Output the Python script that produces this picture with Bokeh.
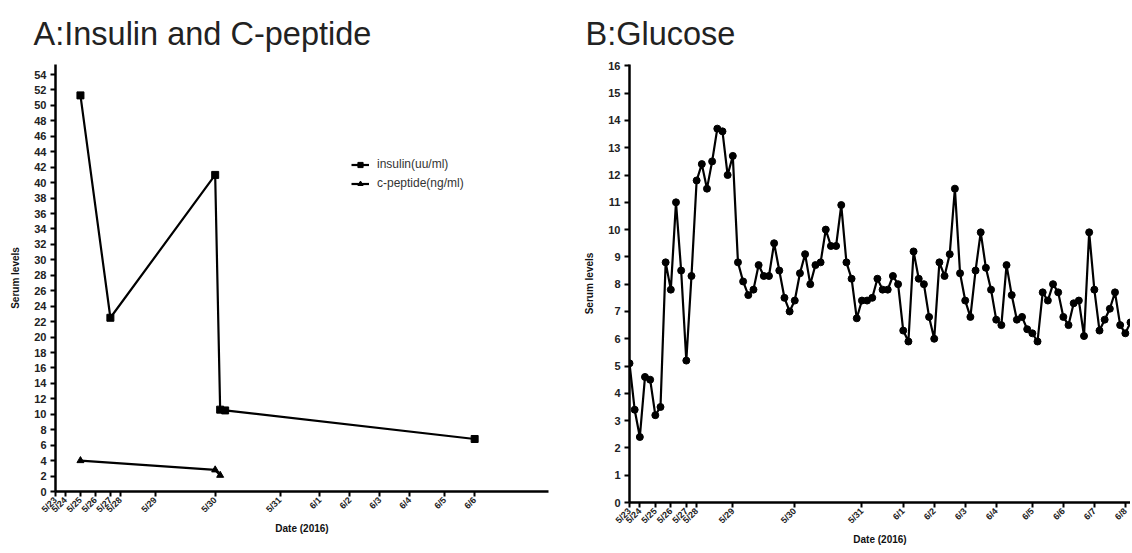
import math
from bokeh.plotting import figure
from bokeh.layouts import row
from bokeh.models import Range1d, FixedTicker, Legend, LegendItem
from bokeh.embed import file_html
from bokeh.resources import INLINE

# shared time axis: sample index, tick labels at the date boundaries
tick_index = [0, 2, 5, 8, 11, 13, 20, 32, 45, 53, 59, 65, 71, 78, 84, 90, 96]
tick_dates = ["5/23", "5/24", "5/25", "5/26", "5/27", "5/28", "5/29", "5/30",
              "5/31", "6/1", "6/2", "6/3", "6/4", "6/5", "6/6", "6/7", "6/8"]

# Panel A
insulin_idx = [5, 11, 32, 33, 34, 84]
insulin_val = [51.3, 22.5, 41.0, 10.6, 10.5, 6.8]
cpep_idx = [5, 32, 33]
cpep_val = [4.0, 2.8, 2.1]

# Panel B
glucose = [5.1, 3.4, 2.4, 4.6, 4.5, 3.2, 3.5, 8.8, 7.8, 11.0,
           8.5, 5.2, 8.3, 11.8, 12.4, 11.5, 12.5, 13.7, 13.6, 12.0,
           12.7, 8.8, 8.1, 7.6, 7.8, 8.7, 8.3, 8.3, 9.5, 8.5,
           7.5, 7.0, 7.4, 8.4, 9.1, 8.0, 8.7, 8.8, 10.0, 9.4,
           9.4, 10.9, 8.8, 8.2, 6.75, 7.4, 7.4, 7.5, 8.2, 7.8,
           7.8, 8.3, 8.0, 6.3, 5.9, 9.2, 8.2, 8.0, 6.8, 6.0,
           8.8, 8.3, 9.1, 11.5, 8.4, 7.4, 6.8, 8.5, 9.9, 8.6,
           7.8, 6.7, 6.5, 8.7, 7.6, 6.7, 6.8, 6.35, 6.2, 5.9,
           7.7, 7.4, 8.0, 7.7, 6.8, 6.5, 7.3, 7.4, 6.1, 9.9,
           7.8, 6.3, 6.7, 7.1, 7.7, 6.5, 6.2, 6.6]
glucose_idx = list(range(len(glucose)))

FONT = "Liberation Sans"


def style(p, n_ticks, yticks):
    p.outline_line_color = None
    p.xgrid.grid_line_color = None
    p.ygrid.grid_line_color = None
    p.xaxis.ticker = FixedTicker(ticks=tick_index[:n_ticks])
    p.xaxis.major_label_overrides = {t: d for t, d in zip(tick_index[:n_ticks], tick_dates[:n_ticks])}
    p.xaxis.major_label_orientation = math.pi / 4
    p.yaxis.ticker = FixedTicker(ticks=yticks)
    for ax in (p.xaxis, p.yaxis):
        ax.axis_line_width = 2.5
        ax.axis_line_color = "black"
        ax.major_tick_line_width = 2
        ax.major_tick_line_color = "black"
        ax.major_tick_out = 5
        ax.major_tick_in = 0
        ax.minor_tick_line_color = None
        ax.major_label_text_font = FONT
        ax.major_label_text_font_style = "bold"
        ax.major_label_text_color = "#222222"
        ax.axis_label_text_font = FONT
        ax.axis_label_text_font_style = "bold"
        ax.axis_label_text_font_size = "10px"
        ax.axis_label_text_color = "#111111"
    p.xaxis.axis_label_standoff = 2
    p.yaxis.axis_label_standoff = 10
    p.xaxis.major_label_text_font_size = "9px"
    p.yaxis.major_label_text_font_size = "11px"
    p.xaxis.major_label_standoff = 2
    p.yaxis.major_label_standoff = 4
    p.xaxis.axis_label = "Date (2016)"
    p.yaxis.axis_label = "Serum levels"
    p.title.text_font = FONT
    p.title.text_font_size = "32.5px"
    p.title.text_font_style = "normal"
    p.title.text_color = "#222222"
    p.title.align = "left"
    try:
        p.title.standoff = 26
    except Exception:
        pass


pA = figure(frame_width=493, frame_height=427, output_backend="svg", toolbar_location=None,
            x_range=Range1d(0, 98.8), y_range=Range1d(0, 55.3),
            min_border_left=55, min_border_right=20, min_border_top=64, min_border_bottom=60,
            title="A:Insulin and C-peptide")
style(pA, 15, list(range(0, 55, 2)))
pA.title.offset = -22

l1 = pA.line(insulin_idx, insulin_val, line_color="black", line_width=2.2)
s1 = pA.scatter(insulin_idx, insulin_val, marker="square", size=7, color="black")
l2 = pA.line(cpep_idx, cpep_val, line_color="black", line_width=2.2)
s2 = pA.scatter(cpep_idx, cpep_val, marker="triangle", size=7, color="black")

legend = Legend(items=[LegendItem(label="insulin(uu/ml)", renderers=[l1, s1]),
                       LegendItem(label="c-peptide(ng/ml)", renderers=[l2, s2])],
                location=(296, 301))
legend.border_line_color = None
legend.background_fill_alpha = 0
legend.label_text_font = FONT
legend.label_text_font_size = "12px"
legend.label_text_color = "#333333"
legend.glyph_width = 18
legend.glyph_height = 13
legend.label_height = 13
legend.spacing = 5
legend.padding = 2
legend.label_standoff = 8
pA.add_layout(legend, "center")

pB = figure(frame_width=501, frame_height=438, output_backend="svg", toolbar_location=None,
            x_range=Range1d(0, 97.0), y_range=Range1d(0, 16.05),
            min_border_left=61, min_border_right=0, min_border_top=64, min_border_bottom=50,
            title="B:Glucose")
style(pB, 17, list(range(0, 17)))
pB.title.offset = -44

pB.line(glucose_idx, glucose, line_color="black", line_width=2.2)
pB.scatter(glucose_idx, glucose, marker="circle", size=7, color="black")

layout = row(pA, pB)
open("out.html", "w").write(file_html(layout, INLINE))
